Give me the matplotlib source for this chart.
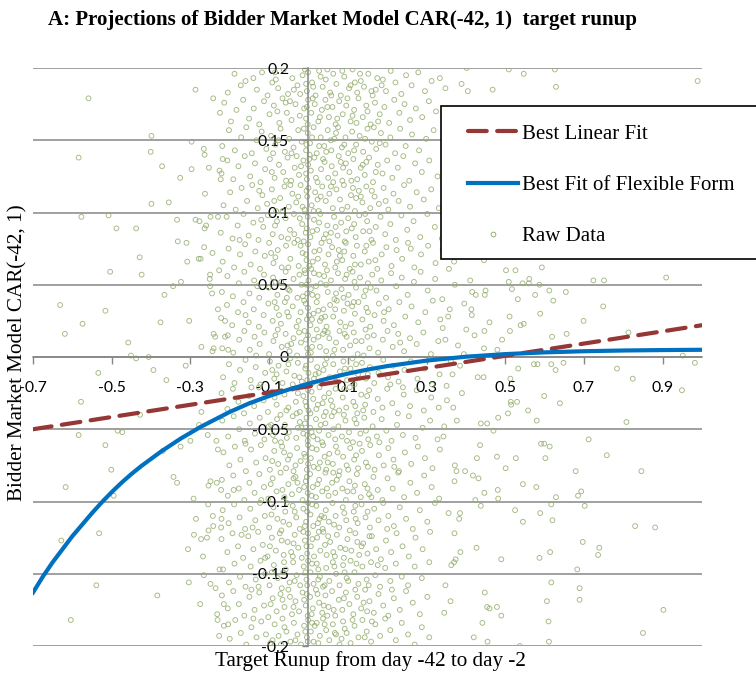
import numpy as np
import matplotlib
matplotlib.use("Agg")
import matplotlib.pyplot as plt
from matplotlib.lines import Line2D
from matplotlib.patches import Rectangle

# ---------------- data ----------------
title_text = "A: Projections of Bidder Market Model CAR(-42, 1)  target runup"
x_label = "Target Runup from day -42 to day -2"
y_label = "Bidder Market Model CAR(-42, 1)"

x_ticks = [-0.7, -0.5, -0.3, -0.1, 0.1, 0.3, 0.5, 0.7, 0.9]
x_tick_labels = ["-0.7", "-0.5", "-0.3", "-0.1", "0.1", "0.3", "0.5", "0.7", "0.9"]
y_ticks = [-0.2, -0.15, -0.1, -0.05, 0, 0.05, 0.1, 0.15, 0.2]
y_tick_labels = ["-0.2", "-0.15", "-0.1", "-0.05", "0", "0.05", "0.1", "0.15", "0.2"]

# Best linear fit (end points)
linear_x = [-0.7, 1.0]
linear_y = [-0.050, 0.022]

# Best fit of flexible form
flex_x = [-0.7, -0.675, -0.65, -0.625, -0.6, -0.575, -0.55, -0.525, -0.5, -0.475, -0.45,
          -0.425, -0.4, -0.375, -0.35, -0.325, -0.3, -0.275, -0.25, -0.225, -0.2,
          -0.15, -0.1, -0.05, 0.0, 0.05, 0.1, 0.15, 0.2, 0.3, 0.4, 0.5, 0.6, 0.7, 0.8, 0.9, 1.0]
flex_y = [-0.163, -0.152, -0.142, -0.133, -0.124, -0.116, -0.108, -0.1005, -0.0935, -0.087,
          -0.081, -0.0755, -0.0705, -0.0655, -0.061, -0.0565, -0.0525, -0.0485, -0.045,
          -0.0415, -0.038, -0.032, -0.027, -0.0225, -0.0185, -0.0148, -0.0115, -0.0087,
          -0.0063, -0.0025, 0.0002, 0.0020, 0.0032, 0.0040, 0.0045, 0.0048, 0.0050]

# Raw data points: (runup, CAR) in thousandths
raw_left_upper = [(-559,179),(-287,185),(-242,179),(-225,169),(-399,153),(-297,149),(-266,144),(-264,140),(-218,137),(-584,138),(-401,142),(-372,132),(-297,130),(-253,131),(-226,129),(-223,123),(-326,124),(-263,113),(-399,106),(-355,107),(-577,97),(-508,98),(-488,89),(-438,89),(-334,95),(-287,95),(-277,94),(-260,91),(-264,89),(-249,97),(-230,97),(-332,80),(-310,79),(-265,76),(-244,72),(-429,69),(-308,66),(-279,68),(-274,68),(-504,59),(-424,57),(-250,57),(-251,54),(-227,60),(-324,52),(-344,49),(-250,49),(-245,44),(-366,43),(-631,36),(-516,32),(-574,23),(-376,24),(-303,25),(-230,33),(-212,25),(-619,16),(-458,10),(-241,16),(-237,14),(-212,14),(-272,7),(-241,6),(-244,4),(-204,5),(-451,1),(-438,-1),(-406,0)]
raw_left_lower = [(-534,-11),(-394,-9),(-361,-16),(-312,-6),(-578,-31),(-428,-40),(-584,-54),(-485,-51),(-473,-52),(-516,-61),(-370,-65),(-325,-62),(-300,-58),(-272,-38),(-278,-47),(-256,-54),(-234,-58),(-230,-64),(-501,-78),(-617,-90),(-495,-96),(-343,-83),(-334,-87),(-254,-89),(-249,-86),(-233,-87),(-222,-92),(-292,-98),(-255,-102),(-243,-110),(-221,-112),(-286,-112),(-254,-120),(-242,-117),(-222,-118),(-291,-123),(-273,-126),(-258,-125),(-532,-122),(-628,-127),(-306,-133),(-268,-138),(-226,-147),(-266,-151),(-304,-156),(-249,-157),(-236,-160),(-539,-158),(-384,-165),(-275,-171),(-215,-171),(-604,-182),(-232,-178),(-231,-182),(-204,-185),(-227,-193)]
raw_right_mid = [(909,55),(724,53),(751,53),(749,35),(699,25),(813,17),(951,1),(982,-4),(784,-8),(824,-15),(808,-45),(712,-57),(654,45),(622,39),(612,46),(593,62),(587,50),(576,43),(589,30),(560,51),(561,54),(544,51),(526,60),(502,60),(517,47),(509,52),(532,40),(539,22),(547,23),(511,28),(512,18),(492,12),(446,6),(480,5),(619,14),(656,16),(617,-5),(628,-9),(648,-4),(573,-5),(582,-5),(533,-8),(513,-15),(445,-14),(430,-14),(514,-31),(515,-33),(530,-31),(507,-39),(558,-37),(599,-27),(639,-32),(580,-44),(482,-42),(470,-51),(454,-46),(438,-46),(599,-60),(613,-62),(591,-60),(436,-61),(460,24),(447,18),(422,15),(448,43),(450,46),(416,45),(425,43),(414,33),(415,29),(396,37),(401,19),(446,67),(411,53),(949,-23),
                 (340,40),(355,28),(348,12),(362,-3),(351,-20),(368,-35),(345,-48),(357,61),(372,50),(380,8),(366,-12),(390,-25),(343,-55),(377,-44),(395,2),(359,33),(385,-6),(341,20),(370,66),(352,-30)]
raw_right_low = [(758,-68),(846,-79),(679,-79),(428,-70),(479,-69),(527,-70),(602,-70),(501,-77),(372,-75),(376,-79),(398,-79),(418,-82),(432,-84),(371,-86),(545,-88),(579,-90),(447,-94),(481,-92),(482,-98),(629,-97),(693,-93),(685,-96),(424,-99),(438,-103),(617,-102),(702,-103),(525,-106),(589,-108),(545,-114),(620,-113),(356,-108),(385,-108),(383,-112),(830,-117),(881,-118),(371,-122),(697,-128),(427,-132),(386,-135),(614,-135),(739,-132),(736,-137),(587,-139),(490,-140),(374,-140),(370,-142),(363,-144),(683,-147),(348,-158),(617,-156),(689,-160),(689,-168),(448,-163),(361,-169),(606,-169),(345,-177),(454,-173),(460,-174),(479,-173),(490,-179),(902,-175),(442,-184),(610,-183),(850,-191),(420,-194),(455,-197),(611,-197),(537,-200)]
raw_right_top = [(989,191),(629,187),(626,199),(547,196),(509,199),(468,185),(402,200),(405,184),(389,189),(348,186),(334,193)]

raw_core_top = [
 (-205,183),(-188,196),(-172,188),(-160,191),(-131,185),(-118,197),(-104,181),(-92,190),(-77,186),(-63,199),(-52,182),(-41,193),(-28,188),(-15,195),(-4,184),(-1,197),(9,190),(18,181),(27,198),(36,187),(44,192),(55,183),(63,196),(71,189),(82,181),(91,194),(103,186),(112,199),(124,183),(133,191),(141,187),(152,196),(163,181),(175,193),(186,188),(197,184),(209,198),(221,190),(236,182),(248,195),(262,188),(279,197),(296,184),(313,191),(-140,193),(-85,197),(-21,182),(48,199),(118,190),(171,185),
 (-214,176),(-197,163),(-183,171),(-166,178),(-151,165),(-139,172),(-125,161),(-113,177),(-99,168),(-88,174),(-74,162),(-66,179),(-55,169),(-43,164),(-33,175),(-22,167),(-11,172),(-2,161),(-1,178),(7,169),(16,175),(25,163),(34,171),(43,178),(52,166),(61,173),(69,161),(78,177),(87,168),(96,174),(107,163),(116,171),(127,179),(138,166),(147,174),(158,161),(169,176),(181,168),(193,173),(205,162),(218,178),(231,169),(244,175),(258,164),(273,172),(289,166),(306,177),(324,170),(-58,176),(112,167),
 (-219,146),(-202,157),(-187,143),(-171,152),(-158,159),(-144,141),(-132,150),(-119,156),(-107,144),(-95,153),(-84,147),(-71,158),(-60,142),(-49,151),(-38,145),(-26,157),(-17,149),(-6,143),(-2,155),(4,148),(13,159),(21,141),(31,152),(40,146),(49,157),(58,143),(66,151),(75,159),(85,145),(94,152),(101,141),(111,156),(121,147),(130,153),(139,142),(150,158),(161,149),(172,144),(184,155),(196,147),(208,152),(220,141),(233,158),(247,146),(263,154),(281,143),(299,151),(318,157),(-90,141),(57,150),(166,159),(3,140),
 (-221,127),(-206,136),(-191,123),(-178,132),(-162,139),(-148,125),(-136,134),(-122,121),(-110,130),(-98,137),(-86,124),(-75,133),(-64,128),(-53,138),(-44,122),(-35,131),(-24,126),(-13,136),(-4,123),(-1,133),(6,129),(15,138),(23,121),(32,130),(41,135),(50,124),(59,132),(68,127),(77,139),(86,122),(95,134),(104,128),(114,137),(124,123),(133,131),(143,126),(154,138),(164,121),(176,133),(188,127),(200,136),(213,124),(227,131),(241,139),(256,122),(271,134),(288,128),(307,136),(328,125),(-30,139),(88,131),(147,135),
 (-216,105),(-199,114),(-185,102),(-170,117),(-156,108),(-143,119),(-129,103),(-117,112),(-105,106),(-93,116),(-82,101),(-72,110),(-61,118),(-50,104),(-41,113),(-31,107),(-20,119),(-10,102),(-3,111),(0,117),(8,105),(17,114),(26,101),(35,118),(44,108),(53,113),(62,103),(71,116),(80,109),(90,119),(99,104),(108,112),(118,101),(128,115),(137,107),(147,118),(157,103),(168,111),(179,106),(191,117),(203,102),(216,113),(229,108),(243,119),(258,104),(275,114),(293,109),(312,116),(331,103),(-66,101),(23,109),(121,110),(-125,115),(196,108)]
raw_core_upper = [
 (-223,86),(-208,97),(-193,82),(-180,91),(-165,99),(-152,84),(-140,93),(-127,81),(-115,90),(-103,98),(-91,85),(-80,94),(-69,83),(-58,96),(-47,88),(-37,99),(-27,81),(-16,92),(-7,86),(-2,97),(5,83),(14,95),(22,88),(30,99),(39,82),(48,91),(57,86),(65,97),(74,84),(83,93),(92,80),(101,96),(110,89),(120,83),(129,98),(139,87),(149,94),(160,81),(171,90),(183,97),(195,85),(208,92),(222,81),(236,98),(251,88),(267,94),(284,83),(302,99),(321,90),(339,82),(-120,95),(-36,85),(53,80),(144,99),(-175,81),
 (-218,66),(-203,75),(-189,62),(-174,71),(-161,78),(-147,64),(-135,73),(-123,61),(-111,70),(-100,79),(-89,65),(-78,74),(-68,62),(-57,77),(-46,68),(-36,79),(-25,63),(-15,72),(-5,67),(-1,78),(7,61),(15,73),(24,68),(33,79),(42,64),(51,71),(60,76),(68,62),(77,74),(86,67),(95,79),(105,61),(114,70),(123,77),(133,64),(143,73),(153,66),(164,79),(175,61),(186,71),(198,76),(211,63),(224,74),(238,68),(253,79),(269,62),(286,71),(304,77),(323,65),(341,74),(-95,72),(-10,60),(80,70),(170,67),(260,75),
 (-220,45),(-206,56),(-192,42),(-177,51),(-163,59),(-150,44),(-138,53),(-125,41),(-113,57),(-101,48),(-90,55),(-79,43),(-69,52),(-58,59),(-48,46),(-38,54),(-28,41),(-18,50),(-8,58),(-3,44),(0,53),(6,47),(14,58),(23,42),(31,51),(40,56),(49,45),(57,53),(66,40),(75,58),(84,47),(93,54),(102,43),(112,59),(121,48),(131,55),(141,42),(151,51),(162,57),(173,46),(185,53),(197,41),(210,58),(223,49),(237,55),(252,43),(268,52),(285,59),(303,46),(322,54),(-55,41),(19,49),(89,41),(158,48),(-130,49),
 (-222,27),(-207,36),(-194,22),(-179,31),(-165,38),(-152,24),(-139,33),(-126,21),(-114,29),(-102,37),(-91,25),(-81,34),(-70,23),(-60,38),(-50,28),(-40,35),(-30,21),(-20,31),(-11,39),(-4,26),(-1,34),(5,22),(13,30),(21,38),(29,25),(38,33),(46,21),(55,36),(63,28),(72,39),(81,24),(90,32),(99,37),(108,23),(118,30),(127,38),(137,26),(147,34),(157,21),(168,29),(179,37),(191,25),(204,33),(217,22),(231,38),(246,28),(262,35),(279,24),(297,31),(316,39),(335,26),(-75,29),(33,27),(111,35),(192,31),(-160,29),
 (-219,6),(-205,15),(-191,3),(-176,12),(-163,18),(-149,5),(-137,14),(-124,9),(-112,17),(-100,2),(-89,11),(-78,19),(-68,7),(-58,16),(-48,4),(-38,13),(-29,1),(-19,10),(-10,18),(-3,6),(-1,15),(6,3),(13,12),(21,19),(29,7),(37,16),(45,4),(53,13),(62,1),(70,10),(79,18),(88,5),(97,14),(106,8),(115,17),(125,2),(135,11),(145,19),(155,6),(166,15),(177,3),(189,12),(201,18),(214,7),(228,16),(243,4),(258,13),(275,9),(292,17),(311,2),(330,11),(-44,9),(49,17),(140,1),(233,10),(-133,1)]
raw_core_lower = [
 (-217,-14),(-202,-5),(-188,-18),(-174,-9),(-160,-2),(-147,-16),(-134,-7),(-122,-19),(-110,-11),(-98,-3),(-87,-15),(-76,-6),(-66,-18),(-56,-10),(-46,-1),(-36,-13),(-27,-4),(-17,-17),(-8,-8),(-2,-19),(0,-11),(6,-2),(14,-15),(22,-7),(30,-18),(38,-9),(46,-1),(54,-14),(63,-5),(71,-17),(80,-10),(89,-3),(98,-16),(107,-8),(117,-19),(126,-12),(136,-4),(146,-15),(156,-7),(167,-18),(178,-11),(190,-2),(202,-14),(215,-6),(229,-17),(244,-9),(260,-3),(277,-15),(295,-8),(314,-19),(333,-12),(-92,-9),(18,-12),(112,-1),(208,-19),(-40,-19),
 (-221,-25),(-206,-36),(-192,-22),(-178,-31),(-164,-39),(-151,-27),(-138,-34),(-126,-21),(-114,-30),(-103,-38),(-92,-24),(-81,-33),(-71,-40),(-61,-26),(-51,-35),(-41,-22),(-32,-31),(-22,-38),(-13,-27),(-5,-34),(-1,-23),(5,-39),(12,-29),(20,-36),(28,-21),(36,-32),(44,-38),(52,-25),(61,-34),(69,-22),(78,-37),(87,-28),(96,-35),(105,-21),(114,-31),(124,-39),(134,-26),(144,-33),(154,-23),(165,-38),(176,-29),(188,-35),(200,-22),(213,-32),(227,-39),(242,-26),(258,-34),(275,-23),(293,-37),(312,-28),(331,-35),(-145,-21),(-30,-39),(57,-30),(139,-37),(240,-21),
 (-219,-44),(-204,-55),(-190,-41),(-176,-50),(-162,-58),(-149,-46),(-136,-53),(-124,-42),(-112,-57),(-101,-48),(-90,-54),(-80,-43),(-70,-59),(-60,-47),(-50,-52),(-40,-41),(-31,-56),(-22,-45),(-13,-53),(-5,-42),(-2,-58),(4,-49),(12,-55),(19,-43),(27,-51),(35,-59),(43,-46),(51,-54),(59,-41),(68,-57),(76,-48),(85,-55),(94,-44),(103,-52),(113,-59),(122,-46),(132,-53),(142,-42),(152,-57),(163,-48),(174,-55),(186,-43),(198,-51),(211,-58),(225,-47),(240,-54),(255,-41),(272,-56),(290,-49),(309,-44),(328,-57),(-85,-58),(-18,-49),(90,-40),(180,-59),(31,-47),
 (-216,-66),(-201,-75),(-187,-62),(-173,-71),(-159,-79),(-146,-64),(-133,-73),(-121,-61),(-109,-70),(-98,-78),(-87,-65),(-77,-74),(-67,-62),(-57,-77),(-47,-68),(-38,-79),(-29,-63),(-20,-72),(-11,-67),(-4,-78),(-1,-61),(6,-70),(13,-76),(21,-64),(29,-73),(37,-61),(45,-78),(53,-67),(62,-74),(70,-62),(79,-79),(88,-69),(97,-75),(106,-63),(116,-71),(126,-77),(136,-65),(146,-73),(157,-61),(168,-78),(179,-68),(191,-75),(203,-63),(216,-71),(230,-79),(245,-66),(261,-74),(278,-62),(296,-70),(315,-77),(334,-64),(-160,-60),(-52,-71),(41,-69),(130,-60),(218,-76),
 (-220,-85),(-205,-96),(-191,-82),(-177,-91),(-163,-99),(-150,-87),(-137,-94),(-125,-81),(-113,-90),(-102,-98),(-91,-84),(-81,-93),(-71,-80),(-61,-97),(-51,-88),(-42,-95),(-33,-83),(-24,-92),(-15,-99),(-7,-86),(-2,-94),(4,-81),(11,-90),(19,-97),(27,-85),(35,-93),(43,-80),(51,-96),(60,-87),(68,-94),(77,-82),(86,-91),(95,-99),(104,-86),(114,-93),(123,-81),(133,-97),(143,-88),(154,-95),(165,-83),(176,-92),(188,-99),(201,-84),(214,-91),(228,-80),(243,-97),(259,-87),(276,-94),(294,-82),(313,-90),(332,-98),(-120,-99),(-28,-87),(63,-80),(150,-91),(-190,-92)]
raw_core_bottom = [
 (-218,-106),(-203,-115),(-189,-102),(-175,-111),(-161,-119),(-148,-105),(-135,-113),(-123,-101),(-111,-110),(-100,-118),(-89,-104),(-79,-112),(-69,-120),(-59,-107),(-49,-116),(-40,-103),(-31,-111),(-22,-119),(-13,-105),(-6,-114),(-1,-101),(5,-109),(12,-117),(20,-103),(28,-112),(36,-119),(44,-106),(52,-114),(61,-101),(69,-110),(78,-118),(87,-104),(96,-113),(105,-120),(115,-107),(125,-115),(135,-102),(145,-111),(156,-118),(167,-105),(178,-113),(190,-101),(203,-110),(217,-117),(232,-104),(248,-112),(265,-119),(283,-106),(302,-114),(321,-101),(-142,-118),(-55,-101),(33,-110),(119,-103),(200,-119),
 (-221,-126),(-206,-135),(-193,-122),(-179,-131),(-166,-139),(-153,-124),(-140,-133),(-128,-121),(-116,-130),(-104,-138),(-93,-125),(-83,-134),(-73,-122),(-63,-137),(-53,-128),(-44,-135),(-35,-123),(-26,-132),(-17,-139),(-9,-127),(-3,-136),(-1,-122),(6,-131),(14,-138),(22,-125),(30,-134),(38,-121),(46,-137),(55,-128),(63,-135),(72,-123),(81,-132),(90,-139),(99,-126),(109,-134),(119,-122),(129,-137),(139,-129),(150,-136),(161,-124),(172,-133),(184,-140),(197,-127),(210,-135),(224,-122),(239,-131),(255,-138),(272,-125),(290,-133),(309,-121),(-110,-139),(-38,-129),(50,-124),(135,-131),(-170,-123),
 (-217,-147),(-202,-156),(-188,-143),(-174,-152),(-160,-159),(-147,-145),(-134,-154),(-122,-141),(-110,-150),(-99,-158),(-88,-144),(-78,-153),(-68,-160),(-58,-147),(-48,-156),(-39,-142),(-30,-151),(-21,-158),(-12,-145),(-5,-154),(-1,-141),(5,-149),(13,-157),(21,-143),(29,-152),(37,-159),(45,-146),(53,-155),(62,-142),(70,-150),(79,-158),(88,-144),(97,-153),(107,-141),(117,-149),(127,-157),(137,-145),(148,-154),(159,-142),(170,-151),(182,-159),(195,-146),(208,-155),(222,-143),(237,-152),(253,-158),(270,-145),(288,-153),(307,-142),(-127,-159),(-64,-149),(25,-147),(101,-155),(176,-144),
 (-220,-165),(-205,-174),(-191,-162),(-177,-171),(-163,-179),(-150,-166),(-137,-175),(-125,-163),(-113,-172),(-102,-180),(-91,-167),(-81,-176),(-71,-164),(-61,-173),(-51,-161),(-42,-178),(-33,-169),(-24,-176),(-15,-163),(-7,-172),(-2,-179),(4,-166),(11,-174),(19,-161),(27,-170),(35,-177),(43,-165),(51,-173),(60,-162),(68,-179),(77,-168),(86,-175),(95,-163),(104,-171),(114,-178),(124,-166),(134,-174),(144,-161),(155,-169),(166,-177),(178,-164),(190,-172),(203,-179),(217,-167),(232,-175),(248,-162),(265,-170),(283,-178),(302,-166),(-145,-161),(-47,-166),(48,-179),(140,-170),(212,-161),
 (-215,-186),(-200,-195),(-186,-182),(-172,-191),(-158,-199),(-145,-187),(-132,-194),(-120,-183),(-108,-192),(-97,-198),(-86,-185),(-76,-193),(-66,-181),(-56,-190),(-46,-197),(-37,-184),(-28,-192),(-19,-199),(-11,-186),(-4,-194),(-1,-182),(6,-190),(13,-197),(21,-184),(29,-193),(37,-181),(45,-189),(53,-196),(62,-185),(70,-192),(79,-199),(88,-183),(97,-191),(107,-198),(117,-186),(127,-194),(137,-182),(148,-190),(159,-197),(170,-185),(182,-193),(195,-181),(208,-189),(222,-196),(237,-184),(253,-192),(270,-199),(288,-187),(307,-194),(-140,-181),(-70,-199),(16,-186),(92,-188),(161,-183)]
raw_core_center = [
 (-83,192),(-37,185),(-9,199),(12,187),(31,194),(58,181),(86,198),(107,188),(131,196),(160,184),(189,192),(-6,189),
 (-79,170),(-47,177),(-6,165),(11,179),(29,166),(48,173),(73,165),(99,179),(122,162),(150,170),(177,163),(-4,173),
 (-76,150),(-43,141),(-12,158),(9,152),(27,146),(45,142),(70,155),(91,147),(116,143),(144,151),(181,148),(-5,147),
 (-93,128),(-57,122),(-19,132),(-6,127),(19,124),(37,137),(63,121),(82,135),(109,122),(138,133),(171,128),(2,137),
 (-87,108),(-46,119),(-15,104),(-5,115),(13,101),(31,111),(57,118),(85,102),(113,117),(133,111),(161,115),(-26,111),
 (-85,91),(-52,82),(-22,96),(-4,89),(10,87),(27,93),(44,85),(69,90),(96,87),(116,92),(155,87),(-12,80),
 (-84,69),(-51,62),(-20,77),(-6,71),(11,66),(28,74),(47,60),(72,66),(91,73),(118,64),(147,77),(2,63),
 (-84,52),(-52,47),(-23,57),(-5,50),(10,43),(27,57),(45,50),(70,44),(97,57),(117,52),(145,46),(-14,42),
 (-86,38),(-54,31),(-25,25),(-7,37),(9,26),(25,32),(42,28),(68,33),(94,21),(115,38),(151,31),(1,29),
 (-84,15),(-53,8),(-24,17),(-6,12),(9,7),(25,14),(41,18),(66,5),(92,16),(120,11),(150,14),(-1,2),
 (-81,-12),(-51,-5),(-23,-14),(-6,-6),(10,-18),(26,-11),(42,-5),(67,-14),(93,-8),(121,-5),(151,-12),(-3,-16),
 (-86,-28),(-56,-37),(-27,-25),(-8,-31),(8,-24),(24,-33),(40,-28),(65,-38),(91,-22),(119,-34),(149,-27),(0,-37),
 (-95,-47),(-55,-56),(-27,-49),(-9,-46),(8,-52),(23,-57),(39,-41),(63,-50),(98,-58),(117,-43),(146,-51),(-3,-54),
 (-92,-72),(-62,-66),(-33,-75),(-8,-69),(9,-63),(25,-77),(49,-73),(74,-66),(101,-78),(121,-68),(151,-76),(-1,-74),
 (-96,-88),(-66,-92),(-38,-84),(-11,-90),(8,-96),(23,-88),(47,-91),(72,-85),(99,-93),(118,-89),(160,-97),(-4,-83),
 (-94,-109),(-64,-114),(-35,-107),(-9,-117),(9,-102),(24,-115),(40,-111),(65,-116),(91,-108),(120,-112),(150,-107),(-3,-107),
 (-98,-131),(-68,-127),(-40,-138),(-13,-121),(10,-126),(26,-121),(42,-130),(67,-138),(94,-133),(124,-128),(155,-124),(-5,-131),
 (-93,-149),(-62,-142),(-35,-155),(-8,-149),(9,-143),(25,-154),(41,-158),(66,-145),(92,-149),(122,-143),(153,-158),(-3,-158),
 (-96,-171),(-66,-168),(-38,-173),(-11,-168),(8,-178),(23,-164),(39,-172),(64,-175),(90,-167),(119,-161),(149,-176),(-4,-164),
 (-91,-196),(-61,-187),(-33,-196),(-8,-190),(9,-184),(25,-198),(41,-185),(67,-191),(84,-195),(112,-182),(143,-194),(-2,-197)]

legend_labels = ["Best Linear Fit", "Best Fit of Flexible Form", "Raw Data"]

# ---------------- styling ----------------
RED = "#953735"
BLUE = "#0070C0"
GREEN = "#93AD6E"
GRID = "#868686"
SERIF = "Liberation Serif"
TICKFONT = "Lato"

def unpack(*groups):
    pts = [p for g in groups for p in g]
    xs = np.array([p[0] for p in pts], dtype=float) / 1000.0
    ys = np.array([p[1] for p in pts], dtype=float) / 1000.0
    return xs, ys

raw_x, raw_y = unpack(raw_left_upper, raw_left_lower, raw_right_mid, raw_right_low,
                      raw_right_top, raw_core_top, raw_core_upper, raw_core_lower,
                      raw_core_bottom, raw_core_center)

W, H = 756, 675
fig = plt.figure(figsize=(W / 100, H / 100), dpi=100)
ax = fig.add_axes([33 / W, 1 - 646 / H, 669 / W, 578 / H])
ax.set_xlim(-0.7, 1.0)
ax.set_ylim(-0.2, 0.2)

for s in ["top", "right"]:
    ax.spines[s].set_visible(False)
ax.spines["left"].set_position(("data", 0))
ax.spines["bottom"].set_position(("data", 0))
for s in ["left", "bottom"]:
    ax.spines[s].set_color(GRID)
    ax.spines[s].set_linewidth(1.1)

ax.set_xticks(x_ticks)
ax.set_xticklabels(x_tick_labels, fontfamily=TICKFONT)
ax.set_yticks(y_ticks)
ax.set_yticklabels(y_tick_labels, fontfamily=TICKFONT)
ax.tick_params(axis="x", direction="out", length=5, width=1, color=GRID, pad=12, labelsize=11.3)
ax.tick_params(axis="y", direction="out", length=4, width=1, color=GRID, pad=10, labelsize=11.3)
ax.yaxis.grid(True, color=GRID, linewidth=1.1)
ax.set_axisbelow(True)

ax.scatter(raw_x, raw_y, s=12, facecolors="none", edgecolors=GREEN, linewidths=0.65,
           alpha=0.85, zorder=2)
ax.plot(linear_x, linear_y, color=RED, lw=3, dashes=(4.5, 2.5), dash_capstyle="round", zorder=4)
ax.plot(flex_x, flex_y, color=BLUE, lw=3, zorder=5)

# titles / labels
fig.text(48 / W, 1 - 20 / H, title_text, fontfamily=SERIF, fontweight="bold", fontsize=15,
         ha="left", va="center")
fig.text(370 / W, 1 - 661 / H, x_label, fontfamily=SERIF, fontsize=15.2, ha="center", va="center")
fig.text(18 / W, 1 - 353 / H, y_label, fontfamily=SERIF, fontsize=15.2, ha="center", va="center",
         rotation=90)

# legend
frame = Rectangle((441 / W, 1 - 259 / H), (770 - 441) / W, (259 - 106) / H,
                  transform=fig.transFigure, facecolor="white", edgecolor="black", lw=1.2)
fig.add_artist(frame)
handles = [
    Line2D([], [], color=RED, lw=3, dashes=(4.5, 2.5), dash_capstyle="round"),
    Line2D([], [], color=BLUE, lw=3),
    Line2D([], [], ls="none", marker="o", ms=3.4, mfc="none", mec=GREEN, mew=0.65),
]
fig.legend(handles, legend_labels, loc="upper left", bbox_to_anchor=(468 / W, 1 - 124 / H),
           bbox_transform=fig.transFigure, frameon=False, borderpad=0, borderaxespad=0,
           handlelength=2.4, handletextpad=0.2, labelspacing=1.52,
           prop={"family": SERIF, "size": 15})

fig.savefig("out.png", dpi=100)
